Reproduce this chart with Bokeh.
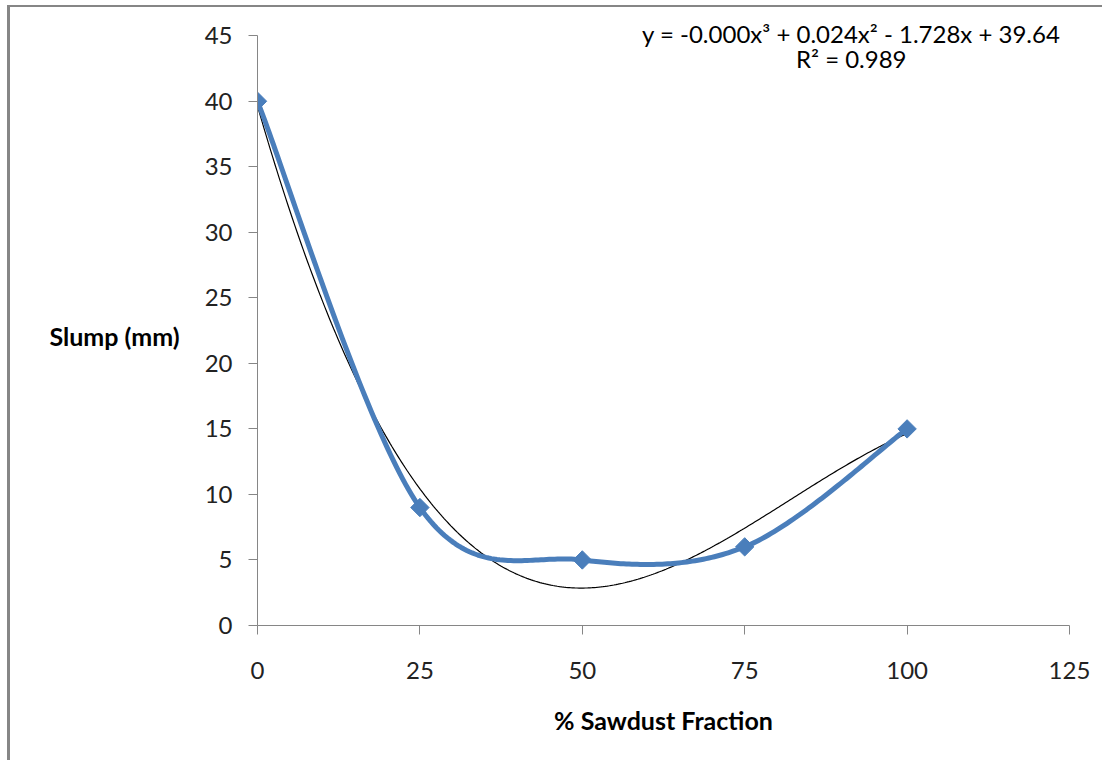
import numpy as np
from bokeh.plotting import figure
from bokeh.models import Label, FixedTicker
from bokeh.embed import file_html
from bokeh.resources import INLINE

# ---- data ----
sawdust = [0, 25, 50, 75, 100]
slump = [40, 9, 5, 6, 15]
x_ticks = [0, 25, 50, 75, 100, 125]
y_ticks = [0, 5, 10, 15, 20, 25, 30, 35, 40, 45]
equation_text = "y = -0.000x³ + 0.024x² - 1.728x + 39.64"
r2_text = "R² = 0.989"

BLUE = "#4a7ebb"
AXIS = "#868686"
FONT = "Lato"

# smoothed line (Excel-style Catmull-Rom bezier)
def smooth(xs, ys, n=60):
    P = np.column_stack([xs, ys]).astype(float)
    P_ext = np.vstack([P[0], P, P[-1]])
    out = []
    for i in range(len(P) - 1):
        p0, p1, p2, p3 = P_ext[i], P_ext[i + 1], P_ext[i + 2], P_ext[i + 3]
        c1 = p1 + (p2 - p0) / 6.0
        c2 = p2 - (p3 - p1) / 6.0
        t = np.linspace(0, 1, n)[:, None]
        seg = ((1 - t) ** 3) * p1 + 3 * ((1 - t) ** 2) * t * c1 + 3 * (1 - t) * t ** 2 * c2 + t ** 3 * p2
        out.append(seg if i == 0 else seg[1:])
    S = np.vstack(out)
    return S[:, 0], S[:, 1]

sx, sy = smooth(sawdust, slump)

# cubic trendline fitted to the data
coef = np.polyfit(sawdust, slump, 3)
tx = np.linspace(0, 100, 300)
ty = np.polyval(coef, tx)

p = figure(width=1095, height=755, output_backend="svg", toolbar_location=None,
           x_range=(0, 125), y_range=(0, 47),
           min_border_left=247, min_border_right=36, min_border_top=2, min_border_bottom=137)
p.outline_line_color = None
p.xgrid.visible = False
p.ygrid.visible = False

p.line(tx, ty, line_color="black", line_width=1.2)
p.line(sx, sy, line_color=BLUE, line_width=5, line_join="round", line_cap="round")
p.scatter(sawdust, slump, marker="square", angle=np.pi / 4, size=13, fill_color=BLUE, line_color=BLUE)

for ax in (p.xaxis[0], p.yaxis[0]):
    ax.axis_line_color = AXIS
    ax.major_tick_line_color = AXIS
    ax.minor_tick_line_color = None
    ax.major_tick_in = 0
    ax.major_tick_out = 9
    ax.major_label_text_font = FONT
    ax.major_label_text_font_size = "24px"
    ax.major_label_text_color = "#222222"
    ax.axis_label_text_font = FONT
    ax.axis_label_text_font_size = "25px"
    ax.axis_label_text_font_style = "bold"
    ax.axis_label_text_color = "black"

p.xaxis.ticker = FixedTicker(ticks=x_ticks)
p.yaxis.ticker = FixedTicker(ticks=y_ticks)
p.yaxis.bounds = (0, 45)
p.xaxis.major_label_standoff = 27
p.yaxis.major_label_standoff = 16
p.xaxis.axis_label = "% Sawdust Fraction"
p.xaxis.axis_label_standoff = 23
p.yaxis.axis_label = "\nSlump (mm)"
p.yaxis.axis_label_orientation = "horizontal"
p.yaxis.axis_label_standoff = 22

p.add_layout(Label(x=91.4, y=45.2, text=equation_text, text_align="center", text_baseline="middle",
                   text_font=FONT, text_font_size="24px", text_color="black"))
p.add_layout(Label(x=91.4, y=43.25, text=r2_text, text_align="center", text_baseline="middle",
                   text_font=FONT, text_font_size="24px", text_color="black"))

p.styles = {"border-left": "3px solid #868686", "border-top": "2px solid #868686",
            "margin-left": "7px", "margin-top": "5px"}

open("out.html", "w").write(file_html(p, INLINE))
